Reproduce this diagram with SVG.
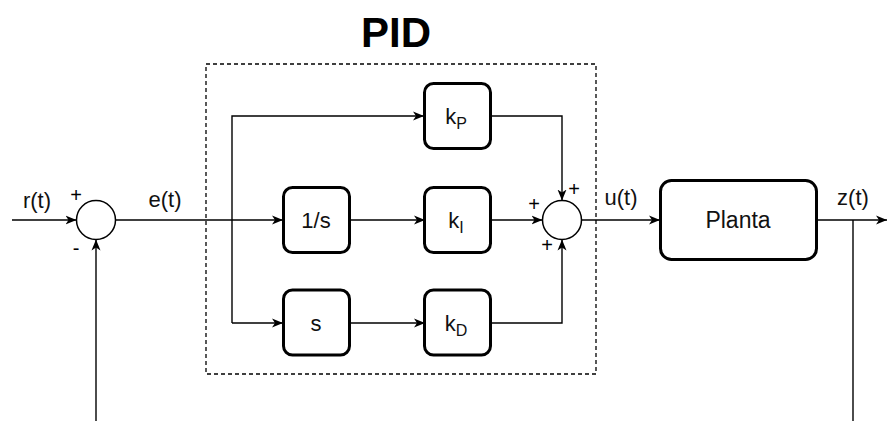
<svg xmlns="http://www.w3.org/2000/svg" width="887" height="421" viewBox="0 0 887 421">
<defs>
<marker id="arr" markerWidth="12" markerHeight="10" refX="11" refY="5" orient="auto" markerUnits="userSpaceOnUse">
<path d="M0,0.5 L11,5 L0,9.5 L3,5 Z" fill="#000"/>
</marker>
</defs>
<style>
.box{fill:#fff;stroke:#000;stroke-width:3}
.sum{fill:#fff;stroke:#000;stroke-width:1.5}
.ln{fill:none;stroke:#000;stroke-width:1.4}
.t{font-family:"Liberation Sans",Arial,sans-serif;font-size:22px;fill:#111;text-anchor:middle}
.sub{font-size:16px}
.big{font-size:23px}
.pm{font-family:"Liberation Sans",Arial,sans-serif;font-size:20px;fill:#000;text-anchor:middle}
</style>
<rect width="887" height="421" fill="#fff"/>
<g id="pid-frame">
<rect x="206" y="64" width="390" height="310" fill="none" stroke="#000" stroke-width="1.3" stroke-dasharray="4 3"/>
<text x="396" y="47" font-family="Liberation Sans,Arial,sans-serif" font-size="42" font-weight="bold" text-anchor="middle">PID</text>
</g>
<g id="connectors">
<line class="ln" x1="12" y1="220" x2="76.5" y2="220" marker-end="url(#arr)"/>
<line class="ln" x1="96" y1="421" x2="96" y2="239.5" marker-end="url(#arr)"/>
<line class="ln" x1="115.5" y1="220" x2="283" y2="220" marker-end="url(#arr)"/>
<polyline class="ln" points="232,323 232,116 424,116" marker-end="url(#arr)"/>
<line class="ln" x1="232" y1="323" x2="283" y2="323" marker-end="url(#arr)"/>
<line class="ln" x1="349" y1="220" x2="425" y2="220" marker-end="url(#arr)"/>
<line class="ln" x1="349" y1="323" x2="425" y2="323" marker-end="url(#arr)"/>
<polyline class="ln" points="491,116 562,116 562,200.5" marker-end="url(#arr)"/>
<line class="ln" x1="491" y1="220" x2="542.5" y2="220" marker-end="url(#arr)"/>
<polyline class="ln" points="491,323 562,323 562,239.5" marker-end="url(#arr)"/>
<line class="ln" x1="581.5" y1="220" x2="660" y2="220" marker-end="url(#arr)"/>
<line class="ln" x1="817" y1="220" x2="887" y2="220" marker-end="url(#arr)"/>
<line class="ln" x1="853" y1="220" x2="853" y2="421"/>
</g>
<g id="sum1">
<circle class="sum" cx="96" cy="220" r="19.5"/>
<text class="pm" x="76" y="202">+</text>
<text class="pm" x="76" y="255">-</text>
</g>
<g id="sum2">
<circle class="sum" cx="562" cy="220" r="19.5"/>
<text class="pm" x="574" y="196">+</text>
<text class="pm" x="534" y="211">+</text>
<text class="pm" x="547" y="252">+</text>
</g>
<g id="kP">
<rect class="box" x="424.5" y="83.5" width="66" height="65" rx="9"/>
<text class="t" x="456" y="124">k<tspan class="sub" dy="5">P</tspan></text>
</g>
<g id="integrator">
<rect class="box" x="283.5" y="187.5" width="66" height="65" rx="9"/>
<text class="t" x="316" y="228">1/s</text>
</g>
<g id="kI">
<rect class="box" x="424.5" y="187.5" width="66" height="65" rx="9"/>
<text class="t" x="456" y="228">k<tspan class="sub" dy="5">I</tspan></text>
</g>
<g id="derivative">
<rect class="box" x="283.5" y="290" width="66" height="65" rx="9"/>
<text class="t" x="316" y="331">s</text>
</g>
<g id="kD">
<rect class="box" x="424.5" y="290" width="66" height="65" rx="9"/>
<text class="t" x="456" y="331">k<tspan class="sub" dy="5">D</tspan></text>
</g>
<g id="planta">
<rect class="box" x="660.5" y="180.5" width="156" height="79" rx="11"/>
<text class="t big" x="738" y="228">Planta</text>
</g>
<g id="labels">
<text class="t" x="37" y="208">r(t)</text>
<text class="t" x="165" y="207">e(t)</text>
<text class="t" x="621" y="205">u(t)</text>
<text class="t" x="853" y="205">z(t)</text>
</g>
</svg>
